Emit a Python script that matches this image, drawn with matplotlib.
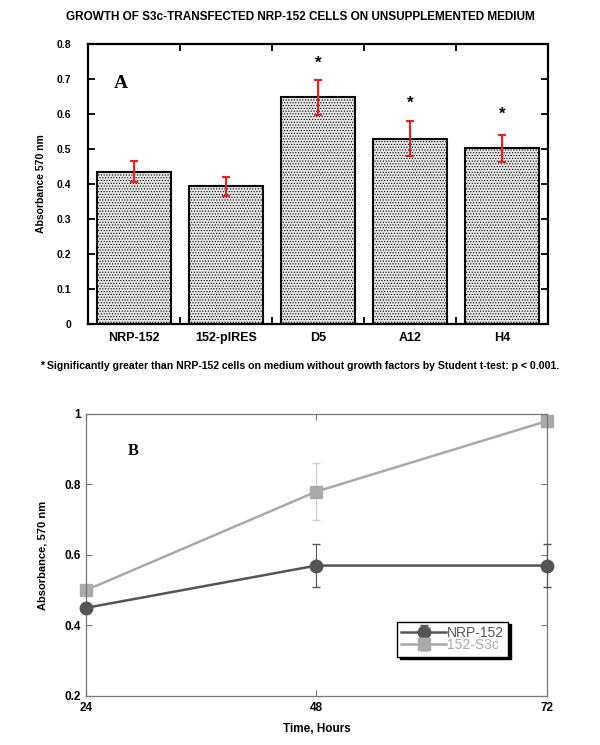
import matplotlib
matplotlib.use('Agg')
import matplotlib.pyplot as plt

plt.rcParams['font.family'] = ['Liberation Sans', 'DejaVu Sans']
plt.rcParams['hatch.color'] = '#9a9a9a'
plt.rcParams['hatch.linewidth'] = 0.5

# panel A
cell_lines = ['NRP-152', '152-pIRES', 'D5', 'A12', 'H4']
absorbance = [0.435, 0.393, 0.648, 0.530, 0.502]
abs_err = [0.030, 0.028, 0.050, 0.049, 0.038]
star_y = [None, None, 0.745, 0.632, 0.598]

# panel B
hours = [24, 48, 72]
nrp152 = [0.45, 0.57, 0.57]
nrp152_err = [0.0, 0.06, 0.06]
s3c = [0.50, 0.78, 0.98]
s3c_err = [0.0, 0.08, 0.0]

fig = plt.figure(figsize=(6, 7.45), dpi=100)

fig.text(0.5, 0.977, 'GROWTH OF S3c-TRANSFECTED NRP-152 CELLS ON UNSUPPLEMENTED MEDIUM',
         ha='center', va='center', fontsize=8.5, fontweight='bold')

ax = fig.add_axes([0.1467, 0.5651, 0.7667, 0.3758])
xs = range(len(cell_lines))
ax.bar(xs, absorbance, width=0.8, facecolor='#e6e6e6', edgecolor='black',
       linewidth=1.5, hatch='......', zorder=2)
ax.errorbar(xs, absorbance, yerr=abs_err, fmt='none', ecolor='#d42a2a',
            elinewidth=1.6, capsize=3, capthick=1.6, zorder=3)
for i, y in enumerate(star_y):
    if y is not None:
        ax.text(i, y, '*', ha='center', va='center', fontsize=12, fontweight='bold')
ax.set_xlim(-0.5, 4.5)
ax.set_ylim(0, 0.8)
ax.set_xticks(list(xs))
ax.set_xticklabels(cell_lines, fontsize=9, fontweight='bold')
ax.set_xticks([0.5, 1.5, 2.5, 3.5], minor=True)
ax.tick_params(axis='x', which='major', length=0, pad=6)
ax.tick_params(axis='x', which='minor', direction='in', length=5, width=1.3, top=True)
ax.set_yticks([0, 0.1, 0.2, 0.3, 0.4, 0.5, 0.6, 0.7, 0.8])
ax.set_yticklabels(['0', '0.1', '0.2', '0.3', '0.4', '0.5', '0.6', '0.7', '0.8'],
                   fontsize=7.5, fontweight='bold')
ax.tick_params(axis='y', direction='in', length=5, width=1.3, right=True, pad=12)
for s in ax.spines.values():
    s.set_linewidth(1.6)
ax.set_ylabel('Absorbance 570 nm', fontsize=7.5, fontweight='bold', labelpad=8)
ax.text(0.055, 0.86, 'A', transform=ax.transAxes, family='Liberation Serif',
        fontsize=14, fontweight='bold', va='center')

fig.text(0.5, 0.509, '* Significantly greater than NRP-152 cells on medium without growth factors by Student t-test: p < 0.001.',
         ha='center', va='center', fontsize=7.6, fontweight='bold')

# panel B
bx = fig.add_axes([0.1433, 0.0658, 0.7683, 0.3785])
bx.errorbar(hours, nrp152, yerr=nrp152_err, color='#555555', ecolor='#555555',
            elinewidth=0.8, capsize=3, lw=1.8, marker='o', markersize=9,
            label='NRP-152', zorder=3, clip_on=False)
bx.errorbar(hours, s3c, yerr=s3c_err, color='#aaaaaa', ecolor='#cfcfcf',
            elinewidth=0.8, capsize=3, lw=1.8, marker='s', markersize=8.5,
            label='152-S3c', zorder=2, clip_on=False)
bx.set_xlim(24, 72)
bx.set_ylim(0.2, 1.0)
bx.set_xticks(hours)
bx.set_xticklabels(['24', '48', '72'], fontsize=8.5, fontweight='bold')
bx.set_yticks([0.2, 0.4, 0.6, 0.8, 1.0])
bx.set_yticklabels(['0.2', '0.4', '0.6', '0.8', '1'], fontsize=8.5, fontweight='bold')
bx.tick_params(direction='in', length=4, width=0.8, color='#777777', top=True, right=True, pad=4)
for s in bx.spines.values():
    s.set_linewidth(0.9)
    s.set_color('#777777')
bx.set_xlabel('Time, Hours', fontsize=8.5, fontweight='bold', labelpad=7)
bx.set_ylabel('Absorbance, 570 nm', fontsize=8, fontweight='bold', labelpad=12)
bx.text(0.09, 0.87, 'B', transform=bx.transAxes, family='Liberation Serif',
        fontsize=12, fontweight='bold', va='center')

leg = bx.legend(loc='lower left', bbox_to_anchor=(0.675, 0.14), fontsize=10,
                frameon=True, fancybox=False, shadow={'color': 'black', 'alpha': 1},
                handlelength=3.2, handletextpad=0.1, borderpad=0.3, labelspacing=-0.1,
                borderaxespad=0)
leg.get_frame().set_edgecolor('black')
leg.get_frame().set_linewidth(1.0)
for txt, c in zip(leg.get_texts(), ['#555555', '#aaaaaa']):
    txt.set_color(c)

fig.savefig('out.png', dpi=100)
